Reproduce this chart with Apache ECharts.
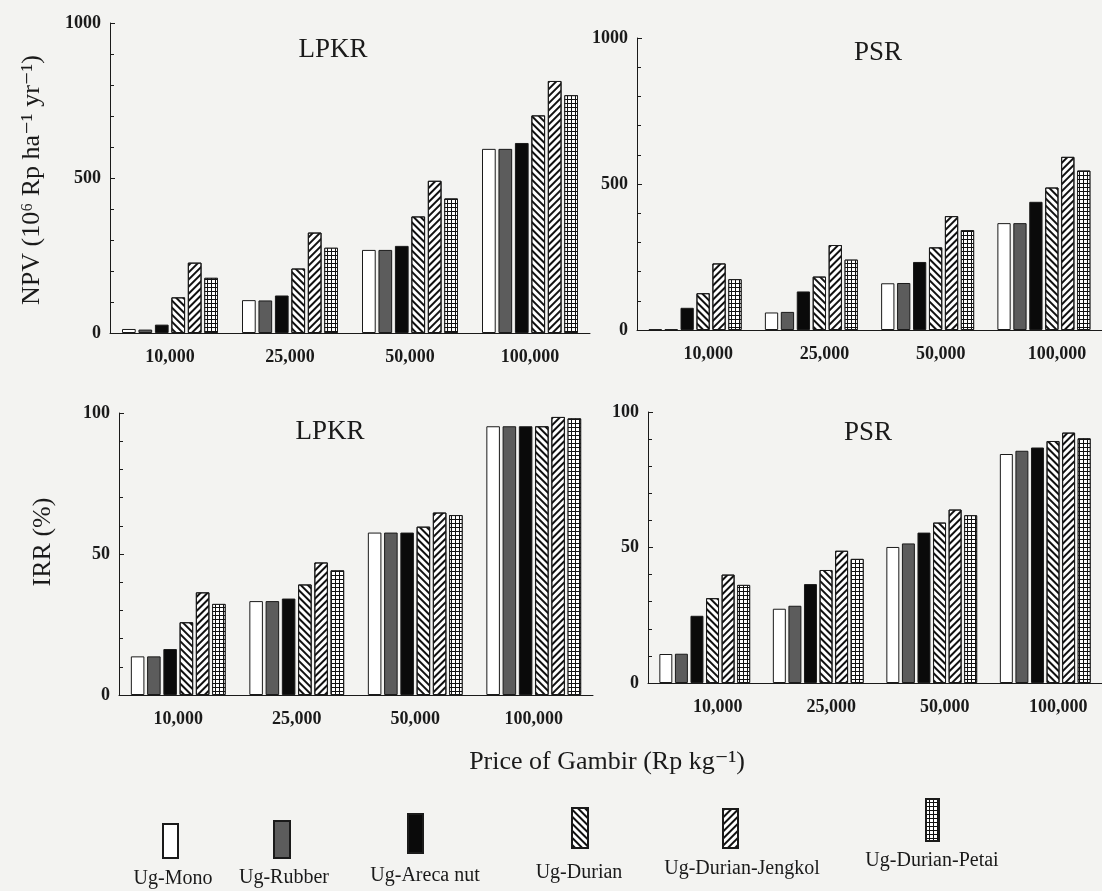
<!DOCTYPE html>
<html>
<head>
<meta charset="utf-8">
<script src="https://cdn.jsdelivr.net/npm/echarts@6/dist/echarts.min.js"></script>
<style>
html,body{margin:0;padding:0;background:#f3f3f1;}
#c{width:1102px;height:891px;}
</style>
</head>
<body>
<div id="c"></div>
<script>
// ---- data ----
const prices = ['10,000', '25,000', '50,000', '100,000'];
const systems = ['Ug-Mono', 'Ug-Rubber', 'Ug-Areca nut', 'Ug-Durian', 'Ug-Durian-Jengkol', 'Ug-Durian-Petai'];
const panelTitles = ['LPKR', 'PSR', 'LPKR', 'PSR'];
const npvTicks = [0, 500, 1000];
const irrTicks = [0, 50, 100];
// rows follow systems order, columns follow prices
const npvLPKR = [
  [13, 106, 268, 594],
  [11, 105, 268, 594],
  [27, 121, 281, 613],
  [115, 208, 376, 702],
  [227, 324, 491, 813],
  [178, 275, 434, 767]
];
const npvPSR = [
  [2, 60, 160, 366],
  [2, 62, 161, 366],
  [76, 132, 233, 439],
  [126, 183, 283, 488],
  [228, 291, 390, 593],
  [174, 241, 342, 546]
];
const irrLPKR = [
  [13.7, 33.3, 57.6, 95.3],
  [13.7, 33.3, 57.6, 95.3],
  [16.3, 34.2, 57.6, 95.3],
  [25.8, 39.2, 59.7, 95.3],
  [36.4, 47.0, 64.7, 98.6],
  [32.3, 44.2, 63.8, 98.1]
];
const irrPSR = [
  [10.7, 27.4, 50.2, 84.5],
  [10.8, 28.5, 51.5, 85.7],
  [24.8, 36.5, 55.5, 86.9],
  [31.3, 41.7, 59.2, 89.3],
  [40.0, 48.8, 64.0, 92.4],
  [36.2, 45.8, 61.9, 90.3]
];

// ---- styling ----
const FONT = '"Liberation Serif", "DejaVu Serif", serif';
const INK = '#1a1a1a';
const styles = [
  { color: '#ffffff', borderColor: INK, borderWidth: 1 },
  { color: '#5c5c5c', borderColor: INK, borderWidth: 1 },
  { color: '#0a0a0a', borderColor: INK, borderWidth: 1 },
  { color: '#ffffff', borderColor: INK, borderWidth: 1,
    decal: { symbol: 'rect', symbolSize: 1, dashArrayX: [1, 0], dashArrayY: [2, 3], rotation: Math.PI / 4, color: '#111' } },
  { color: '#ffffff', borderColor: INK, borderWidth: 1,
    decal: { symbol: 'rect', symbolSize: 1, dashArrayX: [1, 0], dashArrayY: [2, 3], rotation: -Math.PI / 4, color: '#111' } },
  { color: '#111111', borderColor: INK, borderWidth: 1,
    decal: { symbol: 'rect', symbolSize: 1, dashArrayX: [3, 1], dashArrayY: [3, 1], rotation: 0, color: '#ffffff' } }
];

const panels = [
  { data: npvLPKR, ticks: npvTicks, grid: { left: 110, top: 23, width: 480, height: 310 } },
  { data: npvPSR,  ticks: npvTicks, grid: { left: 637, top: 38, width: 476, height: 292 } },
  { data: irrLPKR, ticks: irrTicks, grid: { left: 119, top: 413, width: 474, height: 282 } },
  { data: irrPSR,  ticks: irrTicks, grid: { left: 648, top: 412, width: 466, height: 271 } }
];

const grids = [], xAxes = [], yAxes = [], series = [];
panels.forEach((p, i) => {
  grids.push(Object.assign({ containLabel: false }, p.grid));
  xAxes.push({
    type: 'category', gridIndex: i, data: prices,
    axisLine: { show: true, lineStyle: { color: INK, width: 1 } },
    axisTick: { show: false },
    axisLabel: { fontFamily: FONT, fontWeight: 'bold', fontSize: 18, color: INK, margin: 15,
      padding: i % 2 === 1 ? [0, 0, 0, 26] : 0 }
  });
  const maxV = p.ticks[p.ticks.length - 1];
  const step = p.ticks[1] - p.ticks[0];
  yAxes.push({
    type: 'value', gridIndex: i, min: p.ticks[0], max: maxV, interval: step,
    axisLine: { show: true, lineStyle: { color: INK, width: 1 } },
    axisTick: { show: true, inside: true, length: 5, lineStyle: { color: INK } },
    minorTick: { show: true, splitNumber: 5, length: 4, lineStyle: { color: INK } },
    splitLine: { show: false },
    axisLabel: { fontFamily: FONT, fontWeight: 'bold', fontSize: 18, color: INK, margin: 9,
      formatter: v => String(v) }
  });
  systems.forEach((name, s) => {
    series.push({
      type: 'bar', name: name, xAxisIndex: i, yAxisIndex: i,
      data: p.data[s],
      itemStyle: styles[s],
      barGap: '20%', barCategoryGap: '20%',
      emphasis: { disabled: true },
      silent: true
    });
  });
});

// legend: one component per item, icon only
const legendPos = [
  { left: 162, top: 823, w: 15, h: 34 },
  { left: 273, top: 820, w: 16, h: 37 },
  { left: 407, top: 813, w: 15, h: 39 },
  { left: 571, top: 807, w: 16, h: 40 },
  { left: 722, top: 808, w: 15, h: 39 },
  { left: 925, top: 798, w: 13, h: 42 }
];
const legends = systems.map((name, s) => ({
  data: [name], left: legendPos[s].left, top: legendPos[s].top,
  itemWidth: legendPos[s].w, itemHeight: legendPos[s].h, icon: 'rect',
  padding: 0, itemGap: 0, selectedMode: false,
  formatter: () => '', textStyle: { fontSize: 1, padding: 0 }
}));
const legendLabelPos = [[173, 879], [284, 878], [425, 876], [579, 873], [742, 869], [932, 861]];

const txt = (x, y, text, size, extra) => Object.assign({
  type: 'text', x: x, y: y,
  style: { text: text, font: size + 'px ' + FONT, fill: INK, align: 'center', verticalAlign: 'middle' }
}, extra || {});

const graphics = [
  txt(333, 50, panelTitles[0], 27),
  txt(878, 53, panelTitles[1], 27),
  txt(330, 432, panelTitles[2], 27),
  txt(868, 433, panelTitles[3], 27),
  txt(32, 180, 'NPV (10\u2076 Rp ha\u207B\u00B9 yr\u207B\u00B9)', 26, { rotation: Math.PI / 2 }),
  txt(43, 542, 'IRR (%)', 26, { rotation: Math.PI / 2 }),
  txt(607, 762, 'Price of Gambir (Rp kg\u207B\u00B9)', 26)
];
systems.forEach((name, s) => {
  graphics.push(txt(legendLabelPos[s][0], legendLabelPos[s][1], name, 20));
});

const chart = echarts.init(document.getElementById('c'), null, { renderer: 'canvas' });
chart.setOption({
  backgroundColor: '#f3f3f1',
  animation: false,
  grid: grids, xAxis: xAxes, yAxis: yAxes, series: series,
  legend: legends,
  graphic: graphics
});
</script>
</body>
</html>
